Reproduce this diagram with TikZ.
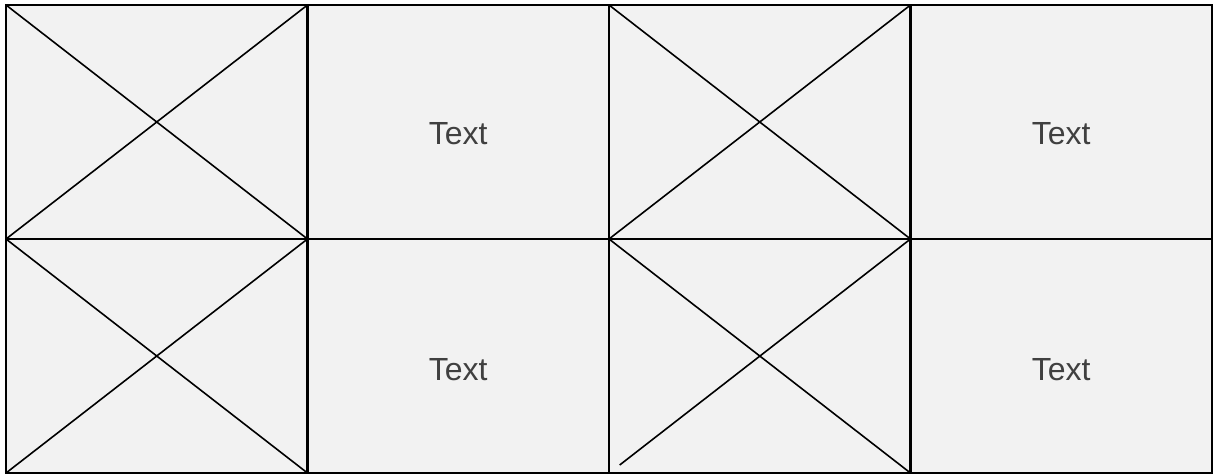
\documentclass[tikz,border=0pt]{standalone}
\usepackage{fontspec}
\setmainfont{Liberation Sans}
\usepackage{xcolor}
\usetikzlibrary{positioning,calc}
\definecolor{INK}{HTML}{000000}
\definecolor{PANEL}{HTML}{F2F2F2}
\definecolor{LABEL}{HTML}{404040}

\begin{document}
\begin{tikzpicture}[
  x=0.75pt, y=-0.75pt,
  cell/.style={draw=INK, fill=PANEL, line width=1.5pt, minimum width=226.1pt, minimum height=175.5pt, inner sep=0pt, outer sep=0pt},
  diag/.style={draw=INK, line width=1.2pt},
  lbl/.style={font=\fontsize{24}{28}\selectfont, text=LABEL, inner sep=0pt}
]
\useasboundingbox (0,0) rectangle (1213,475);

% image placeholders
\node[cell] (img1) at (156.75,122) {};
\node[cell] (img2) at (759.75,122) {};
\node[cell] (img3) at (156.75,356) {};
\node[cell] (img4) at (759.75,356) {};

% text cells
\node[cell] (txt1) at (458.25,122) {};
\node[cell] (txt2) at (1061.25,122) {};
\node[cell] (txt3) at (458.25,356) {};
\node[cell] (txt4) at (1061.25,356) {};

% crosses
\draw[diag] (img1.north west) -- (img1.south east);
\draw[diag] (img1.south west) -- (img1.north east);
\draw[diag] (img2.north west) -- (img2.south east);
\draw[diag] (img2.south west) -- (img2.north east);
\draw[diag] (img3.north west) -- (img3.south east);
\draw[diag] (img3.south west) -- (img3.north east);
\coordinate (img4start) at ([xshift=8pt,yshift=6pt]img4.south west);
\draw[diag] (img4.north west) -- (img4.south east);
\draw[diag] (img4start) -- (img4.north east);

% labels
\node[lbl] (lbl1) at ([yshift=-9pt]txt1.center) {Text};
\node[lbl] (lbl2) at ([yshift=-9pt]txt2.center) {Text};
\node[lbl] (lbl3) at ([yshift=-10pt]txt3.center) {Text};
\node[lbl] (lbl4) at ([yshift=-10pt]txt4.center) {Text};

\end{tikzpicture}
\end{document}
